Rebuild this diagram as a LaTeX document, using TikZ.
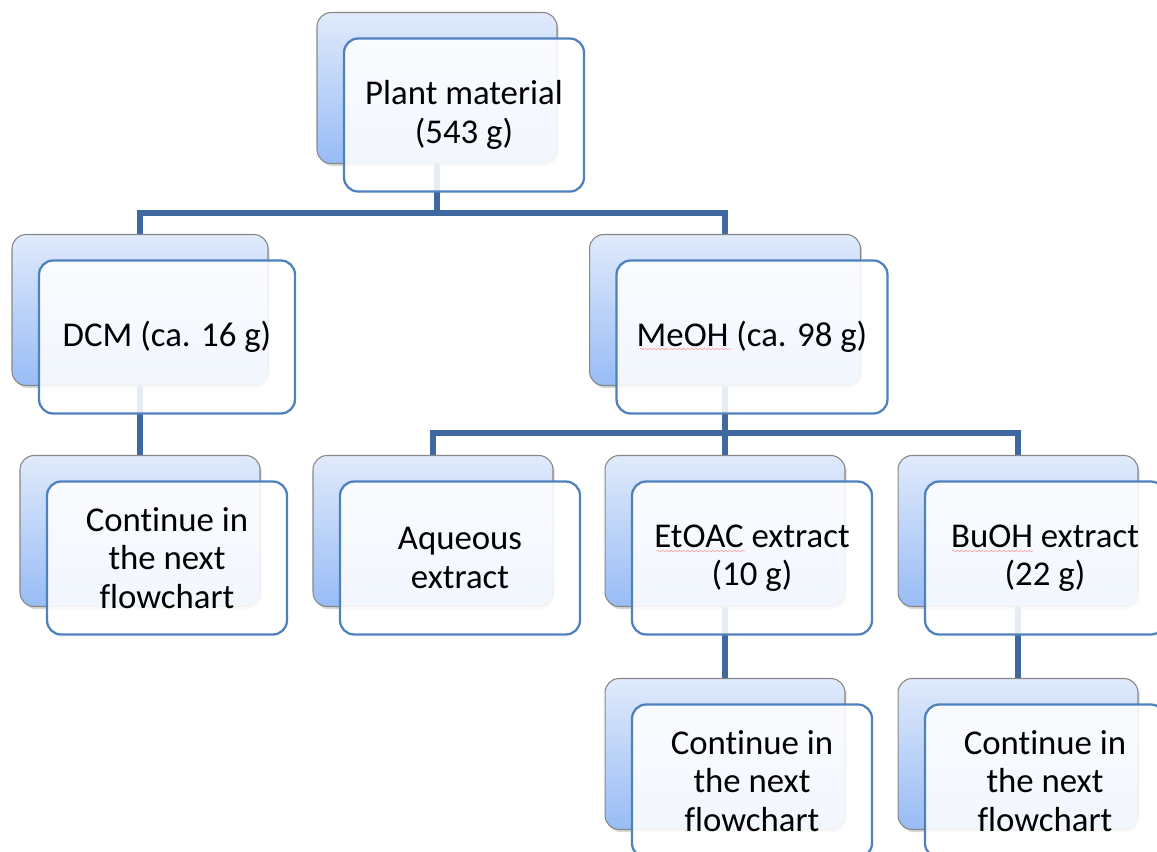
\documentclass[tikz,border=0pt]{standalone}
\usepackage{fontspec}
\setmainfont{Carlito}[Ligatures=CommonOff]
\usetikzlibrary{shadows,backgrounds,decorations.pathmorphing}

\definecolor{boxtop}{RGB}{224,234,251}
\definecolor{boxbottom}{RGB}{152,188,246}
\definecolor{boxgrey}{RGB}{135,135,135}
\definecolor{boxedge}{RGB}{79,129,189}
\definecolor{linkblue}{RGB}{64,104,160}

%% back panel and front panel of one step
\newcommand{\extractbox}[5]{%
	\node[backbox, minimum width=#4] (#1-b) at (#2,#3) {};
	\node[frontbox, minimum width=#4] (#1) at ([shift={(27,27)}]#2,#3) {#5};
}

\begin{document}
\begin{tikzpicture}[line cap=round,line join=round,x=0.02cm,y=-0.02cm,
		backbox/.style={rectangle, rounded corners=8pt, minimum height=3.02cm, inner sep=0pt,
			draw=boxgrey, line width=0.6pt, top color=boxtop, bottom color=boxbottom,
			drop shadow={opacity=0.3, shadow xshift=1pt, shadow yshift=-1.5pt}},
		frontbox/.style={rectangle, rounded corners=8pt, minimum height=3.06cm, inner sep=2pt,
			draw=boxedge, line width=1.3pt, fill=white, fill opacity=0.88, text opacity=1,
			align=center, font=\fontsize{19.8}{21.8}\selectfont},
		link/.style={draw=linkblue, line width=3.4pt, line cap=rect, line join=miter},
		spellwave/.style={draw=red!40, line width=0.35pt,
			decorate, decoration={snake, amplitude=0.35pt, segment length=2.4pt}}]
					\useasboundingbox (0,0) rectangle (1157,852);
					\clip (0,0) rectangle (1157,852);
					\extractbox{plant}{437}{88}{4.8cm}{Plant material\\(543 g)}
					\extractbox{dcm}{140}{310}{5.12cm}{DCM (ca. 16 g)}
					\extractbox{meoh}{725}{310}{5.42cm}{MeOH (ca. 98 g)}
					\extractbox{contl}{140}{531}{4.8cm}{Continue in\\the next\\flowchart}
					\extractbox{aq}{433}{531}{4.8cm}{Aqueous\\extract}
					\extractbox{etoac}{725}{531}{4.8cm}{EtOAC extract\\(10 g)}
					\extractbox{buoh}{1018}{531}{4.8cm}{BuOH extract\\(22 g)}
					\extractbox{conte}{725}{754}{4.8cm}{Continue in\\the next\\flowchart}
					\extractbox{contb}{1018}{754}{4.8cm}{Continue in\\the next\\flowchart}
					%% spell check marks under the solvent names
					\draw[spellwave] (640,349) -- (731,349);
					\draw[spellwave] (657,551) -- (745,551);
					\draw[spellwave] (952,551) -- (1033,551);
					\begin{scope}[on background layer]
					\draw[link] (plant-b.south) -- ++(0,49) coordinate (busA);
					\draw[link] (dcm-b.north) |- (busA) -| (meoh-b.north);
					\draw[link] (dcm-b.south) -- (contl-b.north);
					\draw[link] (meoh-b.south) -- ++(0,47) coordinate (busB);
					\draw[link] (aq-b.north) |- (busB) -| (buoh-b.north);
					\draw[link] (busB) -- (etoac-b.north);
					\draw[link] (etoac-b.south) -- (conte-b.north);
					\draw[link] (buoh-b.south) -- (contb-b.north);
					\end{scope}
				\end{tikzpicture}
\end{document}
